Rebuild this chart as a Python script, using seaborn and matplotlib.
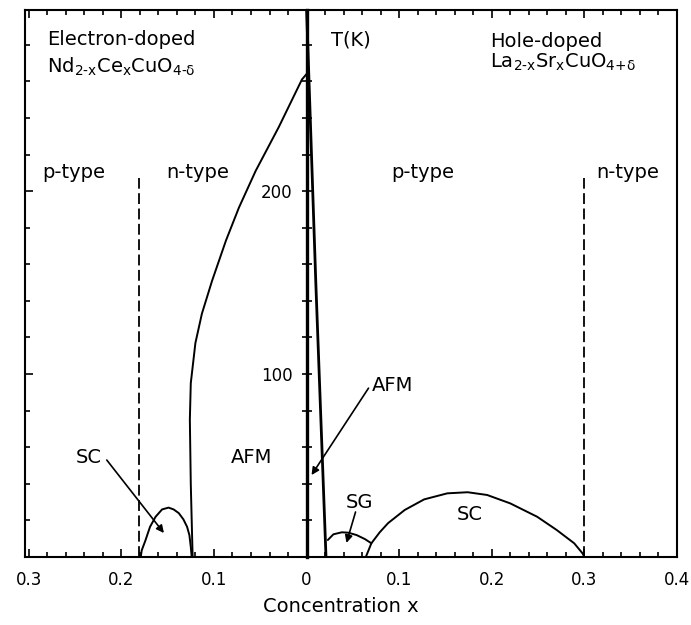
import numpy as np
import pandas as pd
import matplotlib
matplotlib.use("Agg")
import matplotlib.pyplot as plt
from matplotlib.ticker import MultipleLocator, FixedLocator, FuncFormatter
import seaborn as sns

# ---- data -------------------------------------------------------------
# Electron-doped Nd(2-x)Ce(x)CuO(4-d): concentration counted leftwards from x = 0
e_afm_x = [0.123, 0.125, 0.126, 0.125, 0.120, 0.113, 0.102, 0.087, 0.073, 0.055, 0.030, 0.005, 0.0]
e_afm_T = [0, 40, 75, 95, 117, 133, 151, 173, 191, 211, 235, 261, 264]
e_sc_x = [0.179, 0.178, 0.174, 0.169, 0.163, 0.156, 0.149, 0.1435, 0.138, 0.133, 0.129, 0.1265, 0.125, 0.124]
e_sc_T = [0, 3.6, 9, 16.5, 22, 26, 27, 26, 24, 20.6, 16.5, 12, 5.6, 0]

# Hole-doped La(2-x)Sr(x)CuO(4+d)
h_afm_x = [0.0, 0.010, 0.021]
h_afm_T = [300, 150, 0]
h_sg_x = [0.023, 0.029, 0.038, 0.045, 0.054, 0.063, 0.070]
h_sg_T = [9.3, 12.4, 13.5, 13.3, 12, 9.8, 7.5]
h_sc_x = [0.064, 0.070, 0.079, 0.088, 0.106, 0.127, 0.152, 0.174, 0.195, 0.220, 0.249, 0.270, 0.289, 0.298, 0.300]
h_sc_T = [0, 7.5, 13.5, 18.5, 25.7, 31.5, 34.8, 35.4, 33.9, 29.3, 22, 14.8, 7.5, 2, 0]

# p-type / n-type boundaries (electron side negative) and their height
type_boundary_x = [-0.181, 0.300]
type_boundary_top = 207

x_major_ticks = [-0.3, -0.2, -0.1, 0.0, 0.1, 0.2, 0.3, 0.4]
center_tick_labels = [100, 200]

# ---- style ------------------------------------------------------------
sns.set_theme(context="notebook", style="white")
plt.rcParams["font.family"] = ["DejaVu Sans"]
plt.rcParams["axes.edgecolor"] = "black"
plt.rcParams["xtick.color"] = "black"
plt.rcParams["ytick.color"] = "black"
plt.rcParams["text.color"] = "black"
plt.rcParams["axes.labelcolor"] = "black"

fig = plt.figure(figsize=(6.91, 6.25), dpi=100)
ax = fig.add_axes([25 / 691, 68 / 625, 652 / 691, 547 / 625])
ax.set_xlim(-0.304, 0.400)
ax.set_ylim(0, 299)

line_kw = dict(color="black", sort=False, estimator=None, ax=ax, legend=False)

def curve(xs, ts, sign=1.0, lw=1.4):
    df = pd.DataFrame({"x": sign * np.asarray(xs, dtype=float), "T": ts})
    sns.lineplot(data=df, x="x", y="T", lw=lw, **line_kw)

curve(e_afm_x, e_afm_T, sign=-1.0)
curve(e_sc_x, e_sc_T, sign=-1.0)
curve(h_afm_x, h_afm_T, lw=2.0)
curve(h_sg_x, h_sg_T)
curve(h_sc_x, h_sc_T)

ax.vlines(type_boundary_x, 0, type_boundary_top, colors="black",
          linewidth=1.3, linestyles=(0, (6, 2.5)))

# ---- frame ticks ------------------------------------------------------
for s in ax.spines.values():
    s.set_linewidth(1.5)
    s.set_color("black")

ax.xaxis.set_major_locator(FixedLocator(x_major_ticks))
ax.xaxis.set_minor_locator(MultipleLocator(0.02))
ax.xaxis.set_major_formatter(FuncFormatter(lambda v, p: "0" if abs(v) < 1e-9 else f"{abs(v):.1f}"))
ax.yaxis.set_major_locator(MultipleLocator(100))
ax.yaxis.set_minor_locator(MultipleLocator(20))
ax.tick_params(axis="x", which="both", direction="in", top=True, bottom=True,
               labelsize=12, pad=10, width=1.2)
ax.tick_params(axis="x", which="major", length=6)
ax.tick_params(axis="x", which="minor", length=3.6)
ax.tick_params(axis="y", which="both", direction="in", left=True, right=True,
               labelleft=False, labelright=False, width=1.2)
ax.tick_params(axis="y", which="major", length=6)
ax.tick_params(axis="y", which="minor", length=3.6)
ax.set_ylabel("")
ax.set_xlabel("Concentration x", fontsize=14, labelpad=6, x=0.4847)

# ---- central temperature axis at x = 0 --------------------------------
axc = ax.twinx()
axc.set_ylim(ax.get_ylim())
axc.yaxis.set_ticks_position("left")
axc.spines["left"].set_position(("data", 0.0))
axc.spines["left"].set_linewidth(2.4)
for side in ("right", "top", "bottom"):
    axc.spines[side].set_visible(False)
axc.yaxis.set_major_locator(FixedLocator(center_tick_labels))
axc.yaxis.set_minor_locator(MultipleLocator(20))
axc.tick_params(axis="y", which="both", direction="inout", length=6.5, width=1.2,
                labelsize=12, pad=7, left=True, right=False, labelleft=True, labelright=False)
axc.set_ylabel("")

# ---- labels -----------------------------------------------------------
tk = dict(fontsize=14, ha="left", va="baseline")
ax.text(-0.2805, 279.8, "Electron-doped", **tk)
ax.text(-0.2805, 265.0, r"$\mathregular{Nd_{2\text{-}x}Ce_xCuO_{4\text{-}\delta}}$", **tk)
ax.text(-0.2859, 207.1, "p-type", **tk)
ax.text(-0.152, 207.1, "n-type", **tk)
ax.text(0.0259, 279.8, "T(K)", **tk)
ax.text(0.1985, 278.7, "Hole-doped", **tk)
ax.text(0.1985, 267.2, r"$\mathregular{La_{2\text{-}x}Sr_xCuO_{4\text{+}\delta}}$", **tk)
ax.text(0.0917, 207.1, "p-type", **tk)
ax.text(0.3128, 207.1, "n-type", **tk)
ax.text(-0.082, 51.4, "AFM", **tk)
ax.text(0.162, 20.2, "SC", **tk)

arrow = dict(arrowstyle="-|>", color="black", lw=1.2, mutation_scale=11,
             shrinkA=0, shrinkB=0)
ax.annotate("SC", xy=(-0.154, 13.1), xytext=(-0.249, 51.4), fontsize=14,
            ha="left", va="baseline")
ax.annotate("", xy=(-0.154, 13.1), xytext=(-0.2157, 53.0), arrowprops=arrow)
ax.annotate("AFM", xy=(0.0054, 44.8), xytext=(0.070, 90.7), fontsize=14,
            ha="left", va="baseline")
ax.annotate("", xy=(0.0054, 44.8), xytext=(0.0669, 92.3), arrowprops=arrow)
ax.annotate("SG", xy=(0.0431, 7.7), xytext=(0.042, 26.8), fontsize=14,
            ha="left", va="baseline")
ax.annotate("", xy=(0.0431, 7.7), xytext=(0.0529, 24.6), arrowprops=arrow)

fig.savefig("out.png", dpi=100)
